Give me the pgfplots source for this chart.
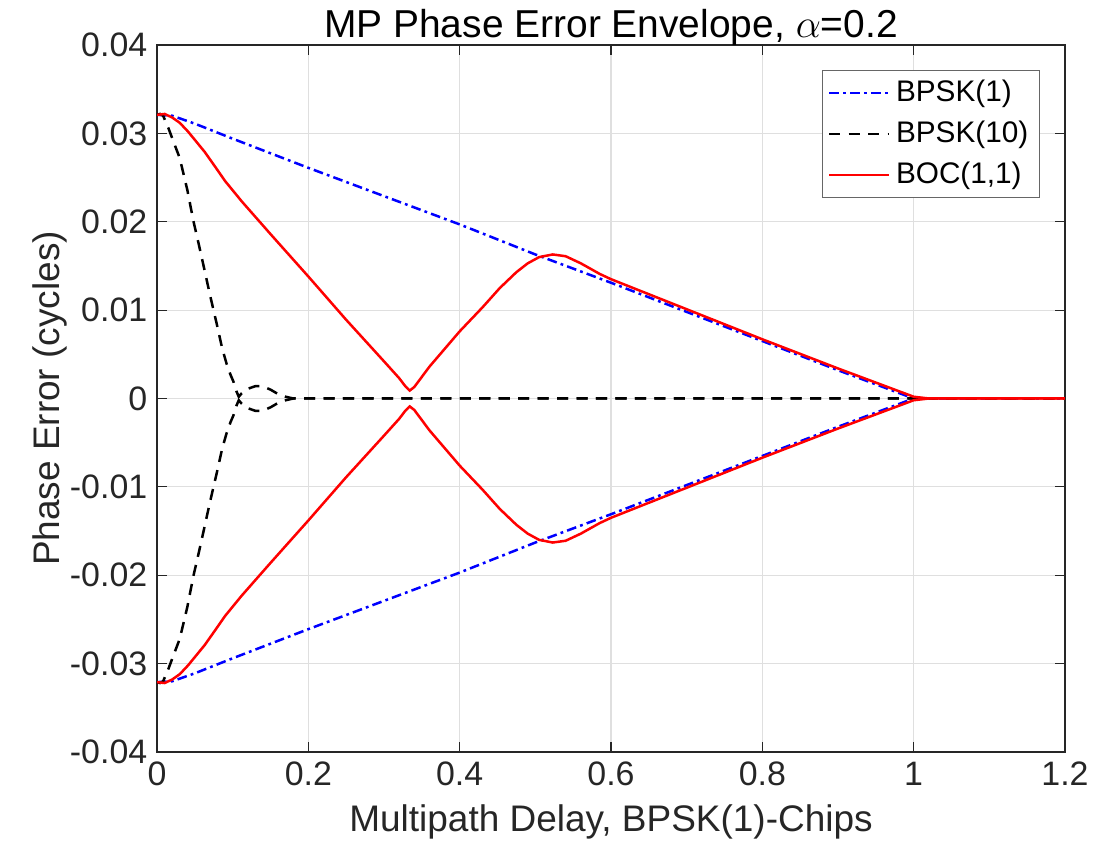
\documentclass[border=0pt]{standalone}
\usepackage{pgfplots}
\pgfplotsset{compat=1.18}
\usepackage{pgfplotstable}
\usepackage{fontspec}
\setmainfont{Liberation Sans}
\usetikzlibrary{calc}
\definecolor{axgray}{RGB}{38,38,38}
\definecolor{gridgray}{RGB}{223,223,223}

\pgfplotstableread{
x y ny
0 0.0321 -0.0321
0.02 0.0320 -0.0320
0.05 0.0311 -0.0311
0.1 0.0294 -0.0294
0.2 0.0261 -0.0261
0.3 0.0229 -0.0229
0.4 0.0197 -0.0197
0.5 0.0163 -0.0163
0.6 0.0131 -0.0131
0.7 0.0098 -0.0098
0.8 0.0065 -0.0065
0.9 0.0032 -0.0032
1.0 0.0000 0.0000
1.2 0.0000 0.0000
}\bpskone

\pgfplotstableread{
x y ny
0 0.0321 -0.0321
0.004 0.0322 -0.0322
0.008 0.0320 -0.0320
0.015 0.0306 -0.0306
0.022 0.0290 -0.0290
0.030 0.0272 -0.0272
0.040 0.0236 -0.0236
0.048 0.0201 -0.0201
0.055 0.0175 -0.0175
0.061 0.0152 -0.0152
0.070 0.0117 -0.0117
0.079 0.0084 -0.0084
0.086 0.0057 -0.0057
0.092 0.0039 -0.0039
0.097 0.0027 -0.0027
0.101 0.0019 -0.0019
0.105 0.0008 -0.0008
0.108 0.0002 -0.0002
0.112 0.0006 -0.0006
0.120 0.0011 -0.0011
0.130 0.0014 -0.0014
0.139 0.0014 -0.0014
0.150 0.0010 -0.0010
0.160 0.0005 -0.0005
0.170 0.0002 -0.0002
0.180 0.0000 0.0000
0.300 0.0000 0.0000
1.200 0.0000 0.0000
}\bpskten

\pgfplotstableread{
x y ny
0 0.0321 -0.0321
0.010 0.0322 -0.0322
0.020 0.0318 -0.0318
0.030 0.0312 -0.0312
0.041 0.0302 -0.0302
0.063 0.0279 -0.0279
0.077 0.0262 -0.0262
0.090 0.0246 -0.0246
0.112 0.0223 -0.0223
0.150 0.0186 -0.0186
0.200 0.0138 -0.0138
0.250 0.0089 -0.0089
0.300 0.0042 -0.0042
0.320 0.0023 -0.0023
0.328 0.0014 -0.0014
0.334 0.0009 -0.0009
0.340 0.0013 -0.0013
0.360 0.0036 -0.0036
0.400 0.0076 -0.0076
0.430 0.0103 -0.0103
0.453 0.0125 -0.0125
0.475 0.0143 -0.0143
0.490 0.0153 -0.0153
0.505 0.0160 -0.0160
0.523 0.0163 -0.0163
0.540 0.0161 -0.0161
0.560 0.0153 -0.0153
0.585 0.0141 -0.0141
0.600 0.0135 -0.0135
0.700 0.0101 -0.0101
0.800 0.0067 -0.0067
0.900 0.0034 -0.0034
0.950 0.0018 -0.0018
1.000 0.0002 -0.0002
1.020 0.0000 0.0000
1.200 0.0000 0.0000
}\bocone

\begin{document}
\begin{tikzpicture}
\begin{axis}[
  name=ax,
  scale only axis,
  width=326.6pt, height=254.3pt,
  xmin=0, xmax=1.2, ymin=-0.04, ymax=0.04,
  xtick={0,0.2,0.4,0.6,0.8,1,1.2},
  xticklabels={0,0.2,0.4,0.6,0.8,1,1.2},
  ytick={-0.04,-0.03,-0.02,-0.01,0,0.01,0.02,0.03,0.04},
  yticklabels={-0.04,-0.03,-0.02,-0.01,0,0.01,0.02,0.03,0.04},
  scaled y ticks=false,
  tick align=inside,
  tick pos=both,
  major tick length=3.6pt,
  tick style={axgray, line width=0.4pt},
  axis line style={axgray, line width=0.5pt},
  grid=major,
  grid style={gridgray, line width=0.4pt},
  ticklabel style={font=\fontsize{12.2}{14}\selectfont, text=axgray},
  /pgf/number format/assume math mode=true,
  title={MP Phase Error Envelope, $\alpha$=0.2},
  title style={font=\fontsize{14}{16}\selectfont, at={(0.5,1)}, anchor=base, yshift=-3.3pt},
  xlabel={Multipath Delay, BPSK(1)-Chips},
  ylabel={Phase Error (cycles)},
  label style={font=\fontsize{13.3}{15}\selectfont, text=axgray},
  ylabel style={yshift=-6pt},
  legend style={at={(1,1)}, anchor=north east, xshift=-9pt, yshift=-9pt,
    font=\fontsize{10.7}{12.5}\selectfont, draw=black!60, line width=0.4pt,
    inner xsep=2pt, inner ysep=1.5pt, row sep=1.5pt},
  legend cell align=left,
  legend image code/.code={\draw[#1] (0cm,0cm) -- (21.6pt,0cm);},
]
\addplot[blue, line width=0.9pt, dash pattern=on 3.5pt off 1.5pt on 1pt off 1.5pt] table[x=x,y=y]{\bpskone};
\addlegendentry{BPSK(1)}
\addplot[blue, line width=0.9pt, dash pattern=on 3.5pt off 1.5pt on 1pt off 1.5pt, forget plot] table[x=x,y=ny]{\bpskone};
\addplot[black, line width=0.9pt, dash pattern=on 4pt off 3pt] table[x=x,y=y]{\bpskten};
\addlegendentry{BPSK(10)}
\addplot[black, line width=0.9pt, dash pattern=on 4pt off 3pt, forget plot] table[x=x,y=ny]{\bpskten};
\addplot[red, line width=0.9pt] table[x=x,y=y]{\bocone};
\addlegendentry{BOC(1,1)}
\addplot[red, line width=0.9pt, forget plot] table[x=x,y=ny]{\bocone};
\end{axis}
\pgfresetboundingbox
\path ($(ax.south west)+(-56.5pt,-37.1pt)$) rectangle ($(ax.north east)+(19.8pt,16.2pt)$);
\end{tikzpicture}
\end{document}
